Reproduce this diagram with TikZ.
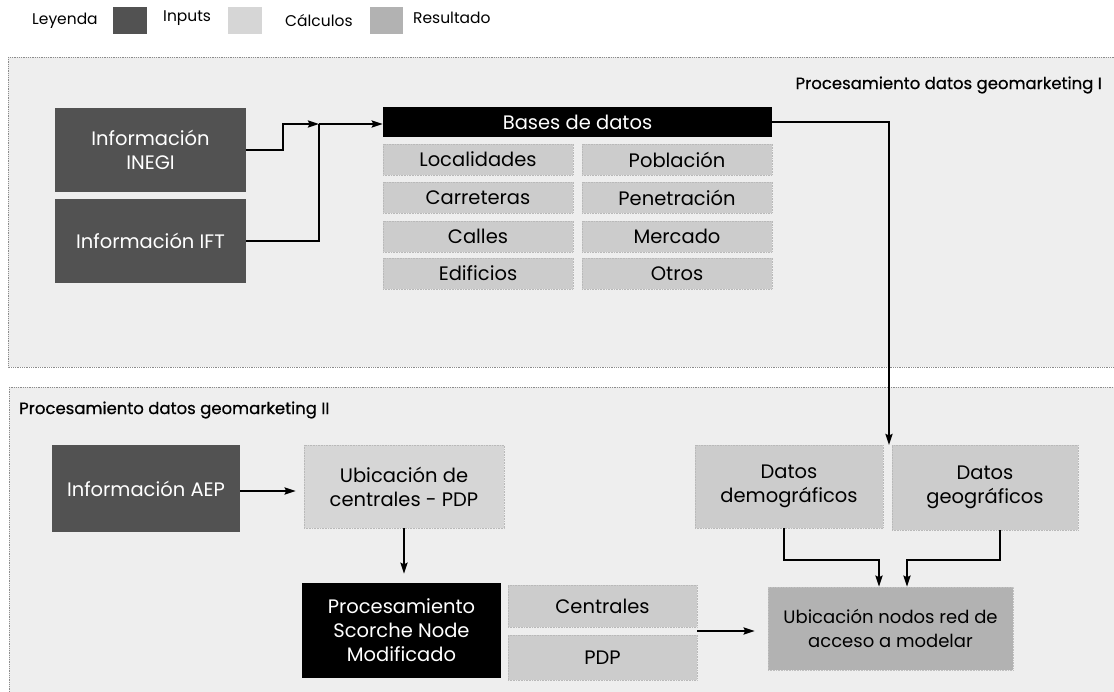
\documentclass[tikz,border=0pt]{standalone}
\usepackage{fontspec}
\setmainfont{Poppins}
\usetikzlibrary{arrows.meta,calc}

\definecolor{panelfill}{gray}{0.935}
\definecolor{paneledge}{gray}{0.55}
\definecolor{inputgray}{gray}{0.32}
\definecolor{calcgray}{gray}{0.80}
\definecolor{calclight}{gray}{0.84}
\definecolor{resultgray}{gray}{0.70}

\tikzset{
  panel/.style={fill=panelfill, draw=paneledge, densely dotted, line width=0.8pt},
  boxbase/.style={inner sep=0pt, align=center, font=\fontsize{19.5}{24}\selectfont},
  inputbox/.style={boxbase, fill=inputgray, text=white},
  calcbox/.style={boxbase, fill=calcgray, draw=gray!55, densely dotted, line width=0.6pt},
  lightbox/.style={calcbox, fill=calclight},
  resultbox/.style={boxbase, fill=resultgray, draw=gray!50, densely dotted, line width=0.6pt,
    font=\fontsize{18}{24}\selectfont},
  blackbox/.style={boxbase, fill=black, text=white},
  conn/.style={line width=2.2pt, draw=black},
  arr/.style={conn, -{Stealth[length=11pt,width=7pt,inset=1.5pt]}},
  legtext/.style={font=\fontsize{15.5}{18}\selectfont, anchor=west, inner sep=0pt},
  paneltitle/.style={font=\fontsize{16.5}{18}\selectfont\addfontfeature{FakeBold=0.6}, inner sep=0pt}
}

\begin{document}
\begin{tikzpicture}[x=1pt,y=-1pt]
\useasboundingbox (0,0) rectangle (1114,692);
\fill[white] (0,0) rectangle (1114,692);

% legend
\node[legtext] (leg) at (32,21) {Leyenda};
\fill[inputgray]  (113,7) rectangle (147,34);
\node[legtext] (legin) at (163,18) {Inputs};
\fill[calclight] (228,7) rectangle (262,34);
\node[legtext] (legcalc) at (285,21) {Cálculos};
\fill[resultgray] (370,7) rectangle (403,34);
\node[legtext] (legres) at (413,18) {Resultado};

% panels
\draw[panel] (8,57) rectangle (1125,367);
\draw[panel] (9,387) rectangle (1125,705);
\node[paneltitle, anchor=east] (t1) at (1102,85) {Procesamiento datos geomarketing I};
\node[paneltitle, anchor=west] (t2) at (19,410) {Procesamiento datos geomarketing II};

% panel I: sources and databases
\node[inputbox, minimum width=191pt, minimum height=84pt] (inegi) at (150.5,150) {Información\\INEGI};
\node[inputbox, minimum width=191pt, minimum height=84pt] (ift) at (150.5,241) {Información IFT};

\node[blackbox, minimum width=389pt, minimum height=30pt] (bases) at (577.5,122) {Bases de datos};

\node[calcbox, minimum width=190pt, minimum height=31pt] (loc) at (478,159.5) {Localidades};
\node[calcbox, minimum width=190pt, minimum height=31pt] (car) at (478,197.5) {Carreteras};
\node[calcbox, minimum width=190pt, minimum height=31pt] (cal) at (478,236.5) {Calles};
\node[calcbox, minimum width=190pt, minimum height=31pt] (edi) at (478,273.5) {Edificios};
\node[calcbox, minimum width=190pt, minimum height=31pt] (pob) at (677,159.5) {Población};
\node[calcbox, minimum width=190pt, minimum height=31pt] (pen) at (677,197.5) {Penetración};
\node[calcbox, minimum width=190pt, minimum height=31pt] (mer) at (677,236.5) {Mercado};
\node[calcbox, minimum width=190pt, minimum height=31pt] (otr) at (677,273.5) {Otros};

% panel II
\node[inputbox, minimum width=188pt, minimum height=87pt] (aep) at (146,488.5) {Información AEP};
\node[lightbox, minimum width=200pt, minimum height=83pt] (ubic) at (404,486.5) {Ubicación de\\centrales - PDP};
\node[blackbox, minimum width=199pt, minimum height=95pt] (proc) at (401.5,630.5) {Procesamiento\\Scorche Node\\Modificado};
\node[calcbox, minimum width=189pt, minimum height=42pt] (cen) at (602.5,606) {Centrales};
\node[calcbox, minimum width=189pt, minimum height=45pt] (pdp) at (602.5,657.5) {PDP};
\node[calcbox, minimum width=188pt, minimum height=83pt] (demo) at (789,486.5) {Datos\\demográficos};
\node[calcbox, minimum width=186pt, minimum height=85pt] (geo) at (985,487.5) {Datos\\geográficos};
\node[resultbox, minimum width=245pt, minimum height=83pt] (nodos) at (890.5,628.5) {Ubicación nodos red de\\acceso a modelar};

% connectors
\coordinate (j1) at (319,124);
\coordinate (j2) at (889,445);
\draw[arr] (inegi.east) -- ++(37,0) |- (j1);
\draw[conn] (ift.east) -| (j1);
\draw[arr] (j1) -- (bases.west |- j1);
\draw[arr] (bases.east |- 0,122) -| (j2);

\draw[arr, shorten >=8pt] (aep.east |- 0,491) -- (ubic.west |- 0,491);
\draw[arr, shorten >=9pt] (ubic.south) -- (proc.north -| ubic.south);
\coordinate (stk) at ($(cen.south east)!0.5!(pdp.north east)$);
\draw[arr, shorten >=13pt] (stk) -- (stk -| nodos.west);
\draw[arr] ([xshift=-5pt]demo.south) -- ++(0,32) -| ([xshift=-11.5pt]nodos.north);
\draw[arr] ([xshift=15pt]geo.south) -- ++(0,30) -| ([xshift=16.5pt]nodos.north);
\end{tikzpicture}
\end{document}
